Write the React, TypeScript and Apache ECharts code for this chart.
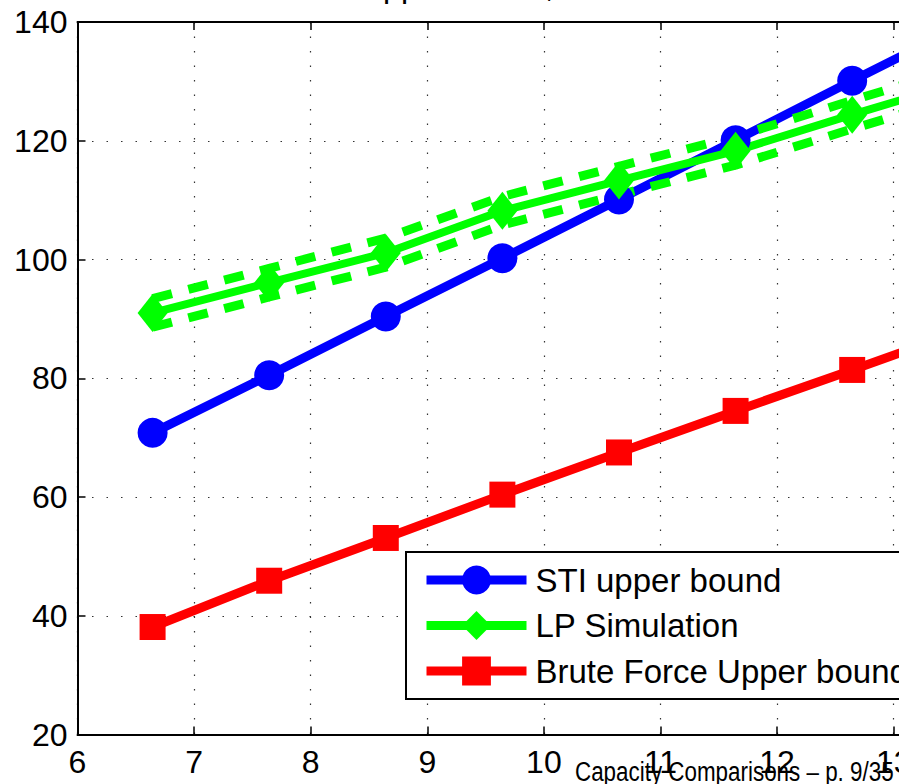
import React, { useEffect, useRef } from "react";
import * as echarts from "echarts";

const X_VALUES = [6.644, 7.644, 8.644, 9.644, 10.644, 11.644, 12.644, 13.644];
const STI = [70.8, 80.5, 90.4, 100.2, 110.1, 120.1, 130.1, 140.0];
const LP = [91.0, 96.1, 101.1, 108.2, 113.3, 118.3, 124.4, 130.3];
const LP_UPPER = [93.4, 98.5, 103.6, 110.6, 115.7, 120.7, 126.8, 132.7];
const LP_LOWER = [88.6, 93.7, 98.7, 105.8, 110.9, 115.9, 122.0, 127.9];
const BRUTE = [38.1, 45.9, 53.1, 60.4, 67.5, 74.5, 81.4, 88.4];
const LEGEND_NAMES = ["STI upper bound", "LP Simulation", "Brute Force Upper bound"];

const FONT = "'Liberation Sans', Arial, Helvetica, sans-serif";

const pairs = (ys: number[]) => X_VALUES.map((x, i) => [x, ys[i]]);

const axisCommon = {
  type: "value" as const,
  axisLine: { show: true, lineStyle: { color: "#000", width: 2 } },
  axisTick: { show: true, inside: true, length: 8, lineStyle: { color: "#000", width: 1.5 } },
};

export default function App() {
  const ref = useRef<HTMLDivElement>(null);
  useEffect(() => {
    const chart = echarts.init(ref.current!, null, { renderer: "svg" });
    const option: any = {
      animation: false,
      backgroundColor: "#fff",
      grid: { left: 77.5, top: 22, width: 932.8, height: 712.5, containLabel: false },
      xAxis: [
        {
          ...axisCommon,
          position: "bottom",
          min: 6,
          max: 14,
          interval: 1,
          axisLabel: { fontSize: 32, color: "#000", fontFamily: FONT, margin: 11 },
          splitLine: { show: true, lineStyle: { color: "#333", width: 1.2, type: [1.5, 13] } },
        },
        {
          ...axisCommon,
          position: "top",
          min: 6,
          max: 14,
          interval: 1,
          axisLabel: { show: false },
          splitLine: { show: false },
        },
      ],
      yAxis: [
        {
          ...axisCommon,
          position: "left",
          min: 20,
          max: 140,
          interval: 20,
          axisLabel: { fontSize: 32, color: "#000", fontFamily: FONT, margin: 10 },
          splitLine: { show: true, lineStyle: { color: "#333", width: 1.2, type: [1.5, 13] } },
        },
        {
          ...axisCommon,
          position: "right",
          min: 20,
          max: 140,
          interval: 20,
          axisLabel: { show: false },
          splitLine: { show: false },
        },
      ],
      legend: {
        data: LEGEND_NAMES,
        orient: "vertical",
        left: 406,
        top: 552,
        itemWidth: 100,
        itemHeight: 36,
        itemGap: 12.5,
        padding: [11.5, 16, 11.5, 16],
        borderColor: "#000",
        borderWidth: 2,
        borderRadius: 0,
        backgroundColor: "#fff",
        selectedMode: false,
        lineStyle: { width: 9 },
        textStyle: { fontSize: 33, color: "#000", fontFamily: FONT, padding: [0, 0, 0, 4] },
      },
      series: [
        {
          name: "Brute Force Upper bound",
          type: "line",
          data: pairs(BRUTE),
          symbol: "rect",
          symbolSize: 26,
          lineStyle: { color: "#ff0000", width: 9 },
          itemStyle: { color: "#ff0000" },
          silent: true,
        },
        {
          name: "STI upper bound",
          type: "line",
          data: pairs(STI),
          symbol: "circle",
          symbolSize: 30,
          lineStyle: { color: "#0000ff", width: 9 },
          itemStyle: { color: "#0000ff" },
          silent: true,
        },
        {
          name: "LP Simulation",
          type: "line",
          data: pairs(LP),
          symbol: "diamond",
          symbolSize: [30, 38],
          lineStyle: { color: "#00ff00", width: 8 },
          itemStyle: { color: "#00ff00" },
          silent: true,
        },
        {
          name: "LP upper",
          type: "line",
          data: pairs(LP_UPPER),
          symbol: "none",
          lineStyle: { color: "#00ff00", width: 9, type: [20, 17], cap: "butt" },
          silent: true,
        },
        {
          name: "LP lower",
          type: "line",
          data: pairs(LP_LOWER),
          symbol: "none",
          lineStyle: { color: "#00ff00", width: 9, type: [20, 17], cap: "butt" },
          silent: true,
        },
      ],
      graphic: [
        {
          type: "text",
          x: 360,
          y: -14,
          z: 100,
          style: { text: "Upper bound,", fontSize: 32, fontFamily: FONT, fill: "#000", verticalAlign: "middle" },
        },
        {
          type: "text",
          x: 575,
          y: 771,
          scaleX: 0.8,
          z: 100,
          style: {
            text: "Capacity Comparisons – p. 9/35",
            fontSize: 28,
            fontFamily: FONT,
            fill: "#000",
            verticalAlign: "middle",
          },
        },
      ],
    };
    chart.setOption(option);
    return () => chart.dispose();
  }, []);
  return (
    <div
      style={{
        position: "fixed",
        left: 0,
        top: 0,
        width: 899,
        height: 784,
        overflow: "hidden",
        background: "#fff",
      }}
    >
      <div ref={ref} style={{ width: 1040, height: 784 }} />
    </div>
  );
}
